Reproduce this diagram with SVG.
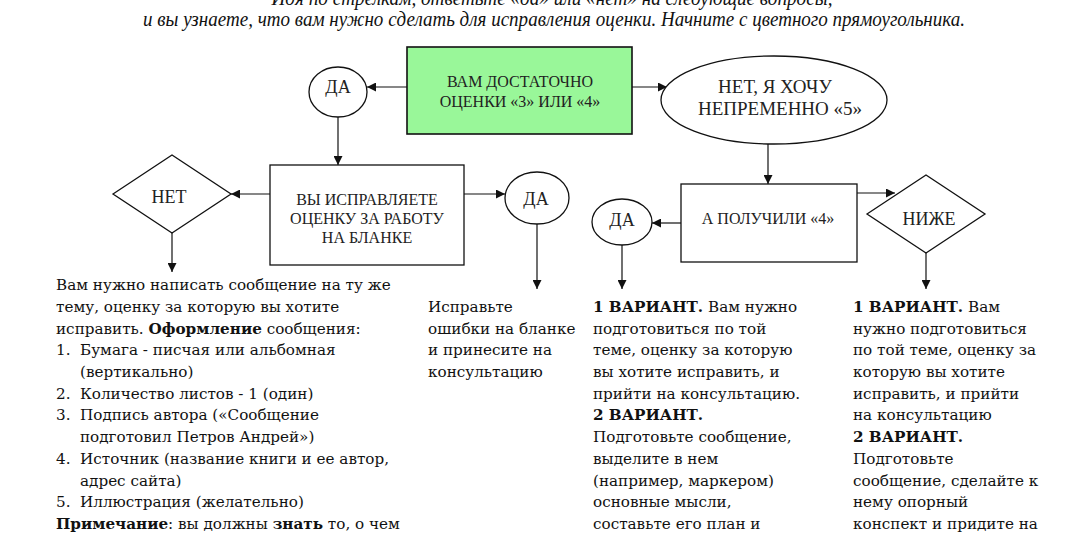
<svg xmlns="http://www.w3.org/2000/svg" width="1080" height="540" viewBox="0 0 1080 540">
<defs>
<style>
.shape{fill:#fff;stroke:#111;stroke-width:1.3}
.green{fill:#99f799;stroke:#111;stroke-width:1.6}
.lbl{font-family:"Liberation Serif","Times New Roman",serif;fill:#222;text-anchor:middle}
.s16{font-size:16px}
.s18{font-size:18px}
.s19{font-size:19px}
.body{font-family:"DejaVu Serif",serif;font-size:15.2px;fill:#111}
.b{font-weight:bold}
.top{font-family:"Liberation Serif","Times New Roman",serif;font-style:italic;font-size:20px;fill:#111;text-anchor:middle}
.conn line{stroke:#111;stroke-width:1.2;marker-end:url(#arr)}
</style>
<marker id="arr" viewBox="0 0 10 10" refX="10" refY="5" markerWidth="9" markerHeight="9" markerUnits="userSpaceOnUse" orient="auto">
<path d="M0,0 L10,5 L0,10 z" fill="#111"/>
</marker>
</defs>
<rect width="1080" height="540" fill="#fff"/>

<g id="intro">
<text class="top" x="552" y="5" textLength="561" lengthAdjust="spacingAndGlyphs">Идя по стрелкам, ответьте «да» или «нет» на следующие вопросы,</text>
<text class="top" x="554" y="26" textLength="822" lengthAdjust="spacingAndGlyphs">и вы узнаете, что вам нужно сделать для исправления оценки. Начните с цветного прямоугольника.</text>
</g>

<g class="conn" id="connectors">
<line x1="407" y1="87" x2="367" y2="87"/>
<line x1="632" y1="87" x2="667" y2="87"/>
<line x1="338" y1="117" x2="338" y2="165"/>
<line x1="270" y1="194" x2="231" y2="194"/>
<line x1="172" y1="233" x2="172" y2="272"/>
<line x1="464" y1="194" x2="505" y2="194"/>
<line x1="537" y1="224" x2="537" y2="289"/>
<line x1="768" y1="144" x2="768" y2="184"/>
<line x1="681" y1="223" x2="652" y2="223"/>
<line x1="622" y1="245" x2="622" y2="289"/>
<line x1="857" y1="193" x2="895" y2="193"/>
<line x1="926" y1="253" x2="926" y2="289"/>
</g>

<g id="start">
<rect class="green" x="407" y="47" width="225" height="87"/>
<text class="lbl s16" x="520" y="87">ВАМ ДОСТАТОЧНО</text>
<text class="lbl s16" x="520" y="107">ОЦЕНКИ «3» ИЛИ «4»</text>
</g>

<g id="yes1">
<ellipse class="shape" cx="338" cy="92" rx="29" ry="25"/>
<text class="lbl s18" x="338" y="93">ДА</text>
</g>

<g id="want5">
<ellipse class="shape" cx="774" cy="100" rx="113" ry="44"/>
<text class="lbl s19" x="775" y="93">НЕТ, Я ХОЧУ</text>
<text class="lbl s19" x="780" y="115">НЕПРЕМЕННО «5»</text>
</g>

<g id="blank">
<rect class="shape" x="270" y="165" width="194" height="100"/>
<text class="lbl s16" x="367" y="205">ВЫ ИСПРАВЛЯЕТЕ</text>
<text class="lbl s16" x="367" y="224">ОЦЕНКУ ЗА РАБОТУ</text>
<text class="lbl s16" x="367" y="243">НА БЛАНКЕ</text>
</g>

<g id="no1">
<polygon class="shape" points="113,194 172,155 231,194 172,233"/>
<text class="lbl s18" x="169" y="203">НЕТ</text>
</g>

<g id="yes2">
<ellipse class="shape" cx="537" cy="198" rx="32" ry="26"/>
<text class="lbl s18" x="536" y="205">ДА</text>
</g>

<g id="got4">
<rect class="shape" x="681" y="184" width="176" height="78"/>
<text class="lbl s16" x="768" y="224">А ПОЛУЧИЛИ «4»</text>
</g>

<g id="yes3">
<ellipse class="shape" cx="622" cy="222" rx="30" ry="23"/>
<text class="lbl s18" x="622" y="226">ДА</text>
</g>

<g id="lower">
<polygon class="shape" points="867,214 926,175 985,214 926,253"/>
<text class="lbl s18" x="929" y="225">НИЖЕ</text>
</g>

<g id="text-no" class="body">
<text x="56" y="290.2">Вам нужно написать сообщение на ту же</text>
<text x="56" y="311.9">тему, оценку за которую вы хотите</text>
<text x="56" y="333.6">исправить. <tspan class="b">Оформление</tspan> сообщения:</text>
<text x="56" y="355.3">1.</text><text x="80" y="355.3">Бумага - писчая или альбомная</text>
<text x="80" y="377.0">(вертикально)</text>
<text x="56" y="398.7">2.</text><text x="80" y="398.7">Количество листов - 1 (один)</text>
<text x="56" y="420.4">3.</text><text x="80" y="420.4">Подпись автора («Сообщение</text>
<text x="80" y="442.1">подготовил Петров Андрей»)</text>
<text x="56" y="463.8">4.</text><text x="80" y="463.8">Источник (название книги и ее автор,</text>
<text x="80" y="485.5">адрес сайта)</text>
<text x="56" y="507.2">5.</text><text x="80" y="507.2">Иллюстрация (желательно)</text>
<text x="56" y="528.9"><tspan class="b">Примечание</tspan>: вы должны <tspan class="b">знать</tspan> то, о чем</text>
</g>

<g id="text-yes2" class="body">
<text x="428" y="311.9">Исправьте</text>
<text x="428" y="333.6">ошибки на бланке</text>
<text x="428" y="355.3">и принесите на</text>
<text x="428" y="377.0">консультацию</text>
</g>

<g id="text-yes3" class="body">
<text x="593" y="311.9"><tspan class="b">1 ВАРИАНТ.</tspan> Вам нужно</text>
<text x="593" y="333.6">подготовиться по той</text>
<text x="593" y="355.3">теме, оценку за которую</text>
<text x="593" y="377.0">вы хотите исправить, и</text>
<text x="593" y="398.7">прийти на консультацию.</text>
<text x="593" y="420.4" class="b">2 ВАРИАНТ.</text>
<text x="593" y="442.1">Подготовьте сообщение,</text>
<text x="593" y="463.8">выделите в нем</text>
<text x="593" y="485.5">(например, маркером)</text>
<text x="593" y="507.2">основные мысли,</text>
<text x="593" y="528.9">составьте его план и</text>
</g>

<g id="text-lower" class="body">
<text x="853" y="311.9"><tspan class="b">1 ВАРИАНТ.</tspan> Вам</text>
<text x="853" y="333.6">нужно подготовиться</text>
<text x="853" y="355.3">по той теме, оценку за</text>
<text x="853" y="377.0">которую вы хотите</text>
<text x="853" y="398.7">исправить, и прийти</text>
<text x="853" y="420.4">на консультацию</text>
<text x="853" y="442.1" class="b">2 ВАРИАНТ.</text>
<text x="853" y="463.8">Подготовьте</text>
<text x="853" y="485.5">сообщение, сделайте к</text>
<text x="853" y="507.2">нему опорный</text>
<text x="853" y="528.9">конспект и придите на</text>
</g>
</svg>
